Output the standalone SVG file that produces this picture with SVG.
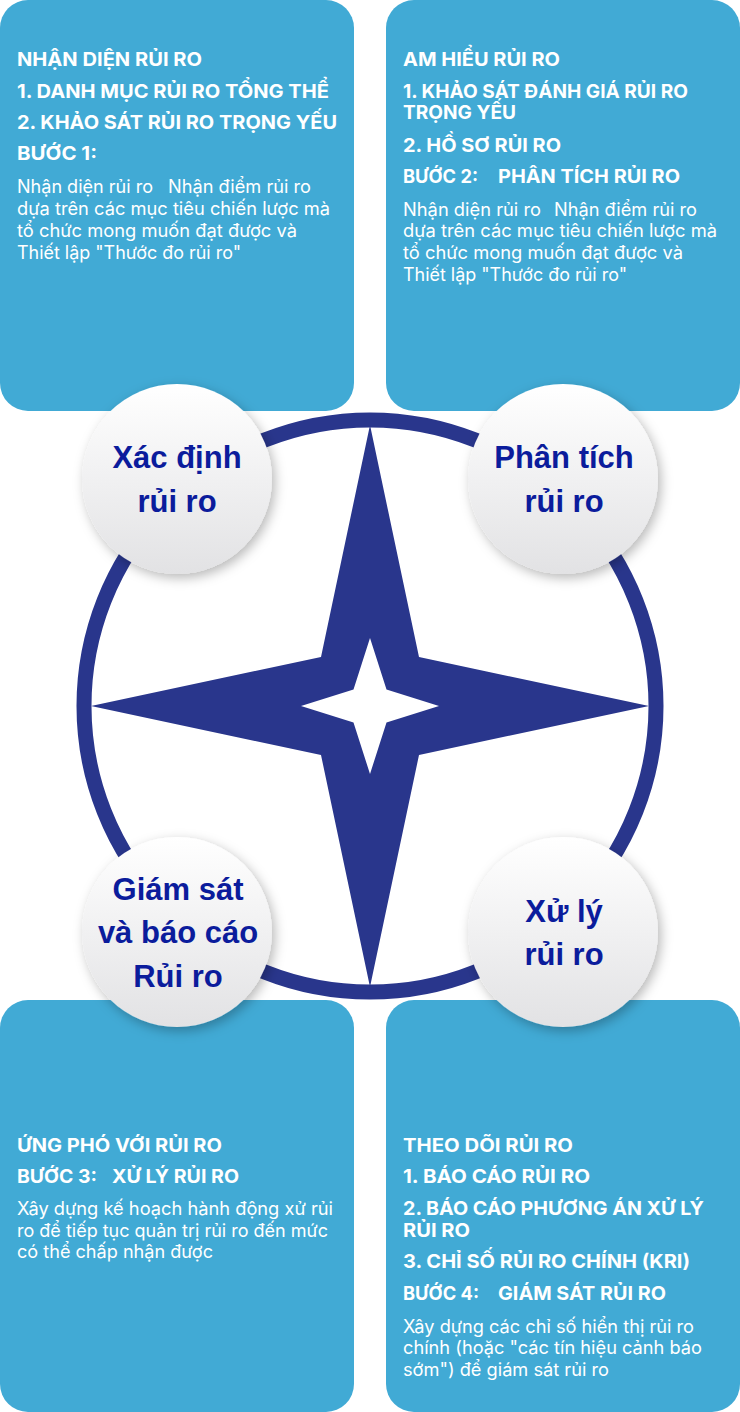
<svg xmlns="http://www.w3.org/2000/svg" width="740" height="1412" viewBox="0 0 740 1412">
<defs>
<linearGradient id="ballGrad" x1="0" y1="0" x2="0" y2="1">
<stop offset="0" stop-color="#ffffff"/>
<stop offset="1" stop-color="#e2e2e4"/>
</linearGradient>
<filter id="shadow" x="-30%" y="-30%" width="160%" height="160%">
<feDropShadow dx="3" dy="4" stdDeviation="6" flood-color="#000000" flood-opacity="0.28"/>
</filter>
<style>
.panel{fill:#41aad5;}
.h{font-family:Inter,"Noto Sans","DejaVu Sans",sans-serif;font-weight:700;font-size:19px;fill:#ffffff;}
.b{font-family:Inter,"Noto Sans","DejaVu Sans",sans-serif;font-weight:400;font-size:18px;fill:#ffffff;}
.ball{fill:url(#ballGrad);filter:url(#shadow);}
.bt{font-family:"Liberation Sans",Arial,sans-serif;font-weight:700;font-size:31px;fill:#0b1c9c;text-anchor:middle;}
.navy{fill:#29368c;}
</style>
</defs>

<g id="panel-top-left">
<rect class="panel" x="0" y="0" width="354" height="411" rx="28" ry="28"/>
<text class="h" x="17" y="66" textLength="185" lengthAdjust="spacingAndGlyphs">NHẬN DIỆN RỦI RO</text>
<text class="h" x="17" y="98" textLength="312" lengthAdjust="spacingAndGlyphs">1. DANH MỤC RỦI RO TỔNG THỂ</text>
<text class="h" x="17" y="129" textLength="320" lengthAdjust="spacingAndGlyphs">2. KHẢO SÁT RỦI RO TRỌNG YẾU</text>
<text class="h" x="17" y="160" textLength="80" lengthAdjust="spacingAndGlyphs">BƯỚC 1:</text>
<text class="b" x="17" y="193" textLength="136" lengthAdjust="spacingAndGlyphs">Nhận diện rủi ro</text>
<text class="b" x="168" y="193" textLength="143" lengthAdjust="spacingAndGlyphs">Nhận điểm rủi ro</text>
<text class="b" x="17" y="215" textLength="313" lengthAdjust="spacingAndGlyphs">dựa trên các mục tiêu chiến lược mà</text>
<text class="b" x="17" y="237" textLength="280" lengthAdjust="spacingAndGlyphs">tổ chức mong muốn đạt được và</text>
<text class="b" x="17" y="259" textLength="224" lengthAdjust="spacingAndGlyphs">Thiết lập "Thước đo rủi ro"</text>
</g>

<g id="panel-top-right">
<rect class="panel" x="386" y="0" width="354" height="411" rx="28" ry="28"/>
<text class="h" x="403" y="66" textLength="157" lengthAdjust="spacingAndGlyphs">AM HIỂU RỦI RO</text>
<text class="h" x="403" y="98" textLength="285" lengthAdjust="spacingAndGlyphs">1. KHẢO SÁT ĐÁNH GIÁ RỦI RO</text>
<text class="h" x="403" y="119" textLength="113" lengthAdjust="spacingAndGlyphs">TRỌNG YẾU</text>
<text class="h" x="403" y="152" textLength="158" lengthAdjust="spacingAndGlyphs">2. HỒ SƠ RỦI RO</text>
<text class="h" x="403" y="183" textLength="75" lengthAdjust="spacingAndGlyphs">BƯỚC 2:</text>
<text class="h" x="498" y="183" textLength="182" lengthAdjust="spacingAndGlyphs">PHÂN TÍCH RỦI RO</text>
<text class="b" x="403" y="216" textLength="138" lengthAdjust="spacingAndGlyphs">Nhận diện rủi ro</text>
<text class="b" x="554" y="216" textLength="143" lengthAdjust="spacingAndGlyphs">Nhận điểm rủi ro</text>
<text class="b" x="403" y="237" textLength="314" lengthAdjust="spacingAndGlyphs">dựa trên các mục tiêu chiến lược mà</text>
<text class="b" x="403" y="259" textLength="280" lengthAdjust="spacingAndGlyphs">tổ chức mong muốn đạt được và</text>
<text class="b" x="403" y="281" textLength="224" lengthAdjust="spacingAndGlyphs">Thiết lập "Thước đo rủi ro"</text>
</g>

<g id="panel-bottom-left">
<rect class="panel" x="0" y="1000" width="354" height="412" rx="28" ry="28"/>
<text class="h" x="17" y="1152" textLength="205" lengthAdjust="spacingAndGlyphs">ỨNG PHÓ VỚI RỦI RO</text>
<text class="h" x="17" y="1183" textLength="80" lengthAdjust="spacingAndGlyphs">BƯỚC 3:</text>
<text class="h" x="112" y="1183" textLength="127" lengthAdjust="spacingAndGlyphs">XỬ LÝ RỦI RO</text>
<text class="b" x="17" y="1215" textLength="316" lengthAdjust="spacingAndGlyphs">Xây dựng kế hoạch hành động xử rủi</text>
<text class="b" x="17" y="1237" textLength="311" lengthAdjust="spacingAndGlyphs">ro để tiếp tục quản trị rủi ro đến mức</text>
<text class="b" x="17" y="1258" textLength="196" lengthAdjust="spacingAndGlyphs">có thể chấp nhận được</text>
</g>

<g id="panel-bottom-right">
<rect class="panel" x="386" y="1000" width="354" height="412" rx="28" ry="28"/>
<text class="h" x="403" y="1152" textLength="170" lengthAdjust="spacingAndGlyphs">THEO DÕI RỦI RO</text>
<text class="h" x="403" y="1183" textLength="187" lengthAdjust="spacingAndGlyphs">1. BÁO CÁO RỦI RO</text>
<text class="h" x="403" y="1215" textLength="301" lengthAdjust="spacingAndGlyphs">2. BÁO CÁO PHƯƠNG ÁN XỬ LÝ</text>
<text class="h" x="403" y="1237" textLength="67" lengthAdjust="spacingAndGlyphs">RỦI RO</text>
<text class="h" x="403" y="1268" textLength="287" lengthAdjust="spacingAndGlyphs">3. CHỈ SỐ RỦI RO CHÍNH (KRI)</text>
<text class="h" x="403" y="1300" textLength="76" lengthAdjust="spacingAndGlyphs">BƯỚC 4:</text>
<text class="h" x="498" y="1300" textLength="168" lengthAdjust="spacingAndGlyphs">GIÁM SÁT RỦI RO</text>
<text class="b" x="403" y="1333" textLength="291" lengthAdjust="spacingAndGlyphs">Xây dựng các chỉ số hiển thị rủi ro</text>
<text class="b" x="403" y="1354" textLength="299" lengthAdjust="spacingAndGlyphs">chính (hoặc "các tín hiệu cảnh báo</text>
<text class="b" x="403" y="1376" textLength="206" lengthAdjust="spacingAndGlyphs">sớm") để giám sát rủi ro</text>
</g>

<g id="compass">
<circle cx="370" cy="706" r="286" fill="none" stroke="#29368c" stroke-width="15"/>
<path class="navy" fill-rule="evenodd" d="M370 425 L419 657 L649 706 L419 755 L370 987 L321 755 L91 706 L321 657 Z M370 638 L353.5 689.5 L301 706 L353.5 722.5 L370 774 L386.5 722.5 L439 706 L386.5 689.5 Z"/>
</g>

<g id="connectors"></g>

<g id="node-xac-dinh">
<circle class="ball" cx="177" cy="479" r="95"/>
<text class="bt" x="177" y="468">Xác định</text>
<text class="bt" x="177" y="512">rủi ro</text>
</g>

<g id="node-phan-tich">
<circle class="ball" cx="563" cy="479" r="95"/>
<text class="bt" x="564" y="468">Phân tích</text>
<text class="bt" x="564" y="512">rủi ro</text>
</g>

<g id="node-giam-sat">
<circle class="ball" cx="177" cy="932" r="95"/>
<text class="bt" x="178" y="900">Giám sát</text>
<text class="bt" x="178" y="943">và báo cáo</text>
<text class="bt" x="178" y="987">Rủi ro</text>
</g>

<g id="node-xu-ly">
<circle class="ball" cx="563" cy="932" r="95"/>
<text class="bt" x="564" y="922">Xử lý</text>
<text class="bt" x="564" y="965">rủi ro</text>
</g>
</svg>
